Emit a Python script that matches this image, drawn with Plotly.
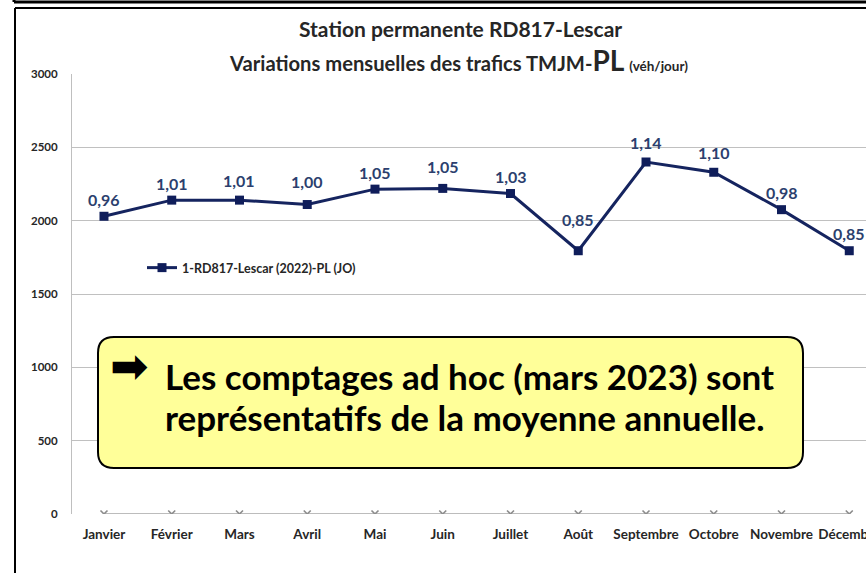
import plotly.graph_objects as go

months = ["Janvier", "Février", "Mars", "Avril", "Mai", "Juin", "Juillet",
          "Août", "Septembre", "Octobre", "Novembre", "Décembre"]
tmjm_pl = [2030, 2140, 2140, 2110, 2215, 2220, 2185, 1795, 2400, 2330, 2075, 1795]
ratio_labels = ["0,96", "1,01", "1,01", "1,00", "1,05", "1,05", "1,03",
                "0,85", "1,14", "1,10", "0,98", "0,85"]
zero_series = [0] * 12
label_shift = [17, 17, 20, 23, 17, 22, 17, 31, 20, 20, 17, 17]

W, H = 866, 573
ML, MR, MT, MB = 72, 0, 74, 59
PW, PH = W - ML - MR, H - MT - MB


def px(x):
    return (x - ML) / PW


def py(y):
    return (H - MB - y) / PH


FONT = "Lato"
NAVY = "#15245f"
LABEL = "#2c3f6e"
TXT = "#262626"

fig = go.Figure()
fig.add_trace(go.Scatter(
    x=months, y=zero_series, mode="lines+markers", showlegend=False,
    line=dict(color="#a6a6a6", width=1.5),
    marker=dict(symbol="x-thin", size=7, line=dict(width=1.6, color="#8c8c8c")),
))
fig.add_trace(go.Scatter(
    x=months, y=tmjm_pl, mode="lines+markers",
    name="<b>1-RD817-Lescar (2022)-PL (JO)</b>",
    line=dict(color=NAVY, width=3),
    marker=dict(symbol="square", size=9, color="#0f1d5a"),
))

annotations = []
for m, v, t, s in zip(months, tmjm_pl, ratio_labels, label_shift):
    annotations.append(dict(x=m, y=v, xref="x", yref="y", text="<b>" + t + "</b>",
                            showarrow=False, yshift=s, yanchor="middle",
                            font=dict(family=FONT, size=16, color=LABEL)))

annotations += [
    dict(x=px(460), y=py(28), xref="paper", yref="paper", showarrow=False,
         text="<b>Station permanente RD817-Lescar</b>",
         font=dict(family=FONT, size=21, color=TXT),
         xanchor="center", yanchor="middle"),
    dict(x=px(458), y=py(60), xref="paper", yref="paper", showarrow=False,
         text="<b>Variations mensuelles des trafics TMJM-<span style='font-size:28px'>PL</span>"
              " <span style='font-size:13.5px'>(véh/jour)</span></b>",
         font=dict(family=FONT, size=20.2, color=TXT),
         xanchor="center", yanchor="middle"),
    dict(x=px(108), y=py(366), xref="paper", yref="paper", showarrow=False,
         text="<b>➡</b>", font=dict(family="DejaVu Sans", size=46, color="#000000"),
         xanchor="left", yanchor="middle"),
    dict(x=px(163), y=py(376), xref="paper", yref="paper", showarrow=False,
         text="<b>Les comptages ad hoc (mars 2023) sont</b>",
         font=dict(family=FONT, size=35, color="#000000"),
         xanchor="left", yanchor="middle"),
    dict(x=px(163), y=py(417), xref="paper", yref="paper", showarrow=False,
         text="<b>représentatifs de la moyenne annuelle.</b>",
         font=dict(family=FONT, size=35, color="#000000"),
         xanchor="left", yanchor="middle"),
]

# rounded yellow box
x0, x1, y0, y1, r = 98, 803, 337, 468, 16
rx, ry = r / PW, r / PH
X0, X1, Y0, Y1 = px(x0), px(x1), py(y1), py(y0)
path = (f"M {X0+rx},{Y1} L {X1-rx},{Y1} Q {X1},{Y1} {X1},{Y1-ry} "
        f"L {X1},{Y0+ry} Q {X1},{Y0} {X1-rx},{Y0} L {X0+rx},{Y0} "
        f"Q {X0},{Y0} {X0},{Y0+ry} L {X0},{Y1-ry} Q {X0},{Y1} {X0+rx},{Y1} Z")

shapes = [
    dict(type="path", path=path, xref="paper", yref="paper",
         fillcolor="#ffff99", line=dict(color="#000000", width=2), layer="above"),
    # outer frames
    dict(type="line", xref="paper", yref="paper", x0=px(14), x1=px(870), y0=py(2), y1=py(2),
         line=dict(color="#000000", width=3)),
    dict(type="line", xref="paper", yref="paper", x0=px(14), x1=px(14), y0=py(-5), y1=py(2),
         line=dict(color="#000000", width=3)),
    dict(type="line", xref="paper", yref="paper", x0=px(15), x1=px(870), y0=py(8), y1=py(8),
         line=dict(color="#000000", width=2)),
    dict(type="line", xref="paper", yref="paper", x0=px(15), x1=px(15), y0=py(580), y1=py(8),
         line=dict(color="#000000", width=2)),
]

fig.update_layout(
    width=W, height=H,
    margin=dict(l=ML, r=MR, t=MT, b=MB, autoexpand=False),
    paper_bgcolor="white", plot_bgcolor="white",
    annotations=annotations, shapes=shapes,
    legend=dict(x=px(142), y=py(268), xanchor="left", yanchor="middle",
                bgcolor="rgba(255,255,255,0)",
                font=dict(family=FONT, size=12.5, color=TXT)),
    xaxis=dict(type="category", range=[-0.472, 11.247], showgrid=False,
               showline=False, zeroline=False, ticks="", automargin=False,
               tickfont=dict(family=FONT, size=13.5, color=TXT, weight="bold"),
               ticklabelstandoff=10),
    yaxis=dict(range=[0, 3000], tickvals=[0, 500, 1000, 1500, 2000, 2500, 3000],
               showgrid=True, gridcolor="#c0c0c0", gridwidth=1,
               showline=True, linecolor="#bfbfbf", linewidth=1, zeroline=False,
               ticks="", ticklabelstandoff=11, automargin=False,
               tickfont=dict(family=FONT, size=11.5, color=TXT, weight="bold")),
)

fig.write_html("out.html", config={"displayModeBar": False},
               post_script="document.body.style.margin='0';")
